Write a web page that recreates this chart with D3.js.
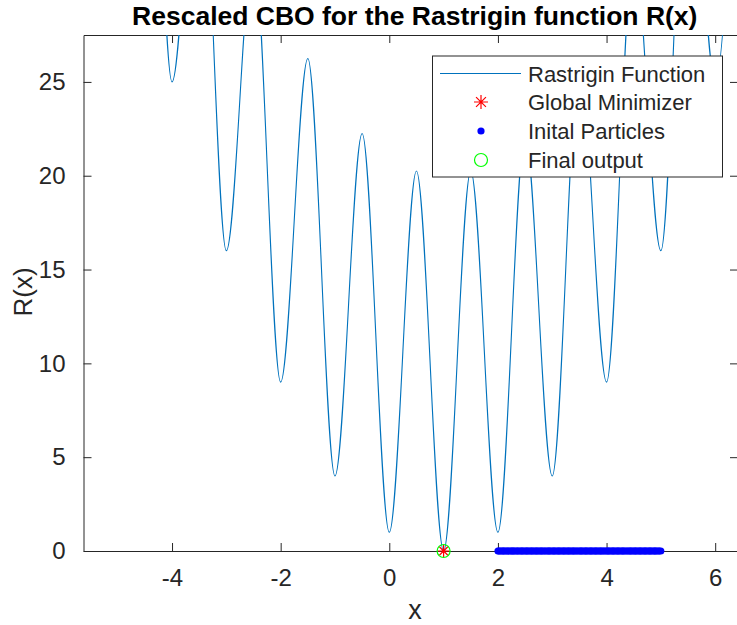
<!DOCTYPE html>
<html>
<head>
<meta charset="utf-8">
<script src="https://cdn.jsdelivr.net/npm/d3@7"></script>
<style>
    body { margin: 0; background: #fff; }
    text { font-family: "Liberation Sans", Arial, sans-serif; fill: #262626; }
</style>
</head>
<body>
<svg></svg>
<script>
const width = 737;
const height = 625;
const plotLeft = 83.5, plotRight = 738, plotTop = 35, plotBottom = 551;

// local extrema of the curve (values above 27.5 are estimated)
const curveX = [-6, -5.5, -5, -4.5, -4, -3.5, -3, -2.5, -2, -1.5, -1, -0.5, 0, 0.5, 1, 1.5, 2, 2.5, 3, 3.5, 4, 4.5, 5, 5.5, 6, 6.5];
const curveY = [59, 62.25, 36, 50.25, 25, 40.25, 16, 32.25, 9, 26.25, 4, 22.25, 1, 20.25, 0, 20.25, 1, 22.25, 4, 26.25, 9, 32.25, 16, 40.25, 25, 50.25];

const minimizer = [1, 0];
const finalOutput = [1, 0];
const particlesX = [2.00, 2.02, 2.04, 2.07, 2.09, 2.11, 2.13, 2.16, 2.18, 2.20, 2.23, 2.25, 2.27, 2.29,
    2.31, 2.34, 2.36, 2.38, 2.41, 2.43, 2.45, 2.47, 2.50, 2.52, 2.54, 2.56, 2.59, 2.61, 2.63, 2.65,
    2.68, 2.70, 2.72, 2.74, 2.77, 2.79, 2.81, 2.83, 2.86, 2.88, 2.91, 2.93, 2.95, 2.97, 3.00, 3.02,
    3.04, 3.06, 3.09, 3.11, 3.13, 3.15, 3.18, 3.20, 3.22, 3.24, 3.27, 3.29, 3.31, 3.33, 3.36, 3.38,
    3.40, 3.42, 3.45, 3.47, 3.50, 3.52, 3.54, 3.56, 3.59, 3.61, 3.63, 3.65, 3.68, 3.70, 3.72, 3.74,
    3.77, 3.79, 3.81, 3.83, 3.86, 3.88, 3.90, 3.92, 3.95, 3.97, 4.00, 4.02, 4.04, 4.06, 4.09, 4.11,
    4.13, 4.15, 4.18, 4.20, 4.22, 4.24, 4.27, 4.29, 4.31, 4.33, 4.36, 4.38, 4.41, 4.43, 4.45, 4.47,
    4.50, 4.52, 4.54, 4.56, 4.59, 4.61, 4.63, 4.65, 4.68, 4.70, 4.72, 4.74, 4.77, 4.79, 4.81, 4.83,
    4.86, 4.88, 4.90, 4.92, 4.95, 4.97, 5.00];

const xTicks = [-4, -2, 0, 2, 4, 6];
const yTicks = [0, 5, 10, 15, 20, 25];
const legendLabels = ["Rastrigin Function", "Global Minimizer", "Inital Particles", "Final output"];

const lineColor = "#0072BD";
const axisColor = "#262626";

let svg = d3.select("svg")
    .attr("width", width)
    .attr("height", height);

let scaleX = d3.scaleLinear().domain([-5.63, 6.42]).range([plotLeft, plotRight]);
let scaleY = d3.scaleLinear().domain([0, 27.5]).range([plotBottom, plotTop]);

svg.append("defs").append("clipPath").attr("id", "plotClip")
    .append("rect")
    .attr("x", plotLeft).attr("y", plotTop)
    .attr("width", plotRight - plotLeft).attr("height", plotBottom - plotTop);

// оси: снизу и слева с подписями, сверху и справа только риски
function styleAxis(g) {
    g.select(".domain").attr("stroke", axisColor);
    g.selectAll(".tick line").attr("stroke", axisColor);
    g.selectAll(".tick text").attr("fill", axisColor)
        .style("font-size", "24px")
        .style("font-family", "'Liberation Sans', Arial, sans-serif");
}

const plainFormat = d => String(d);

svg.append("g")
    .attr("transform", `translate(0, ${plotBottom})`)
    .call(d3.axisBottom(scaleX).tickValues(xTicks).tickFormat(plainFormat)
        .tickSizeInner(-8).tickSizeOuter(0).tickPadding(18))
    .call(styleAxis);

svg.append("g")
    .attr("transform", `translate(0, ${plotTop})`)
    .call(d3.axisTop(scaleX).tickValues(xTicks).tickSizeInner(-8).tickSizeOuter(0).tickFormat(""))
    .call(styleAxis);

svg.append("g")
    .attr("transform", `translate(${plotLeft}, 0)`)
    .call(d3.axisLeft(scaleY).tickValues(yTicks).tickFormat(plainFormat)
        .tickSizeInner(-8).tickSizeOuter(0).tickPadding(18))
    .call(styleAxis);

svg.append("g")
    .attr("transform", `translate(${plotRight}, 0)`)
    .call(d3.axisRight(scaleY).tickValues(yTicks).tickSizeInner(-8).tickSizeOuter(0).tickFormat(""))
    .call(styleAxis);

// кривая функции
let curveData = curveX.map((x, i) => ({ x: x, y: curveY[i] }));
let line = d3.line()
    .x(d => scaleX(d.x))
    .y(d => scaleY(d.y))
    .curve(d3.curveMonotoneX);

svg.append("path")
    .datum(curveData)
    .attr("clip-path", "url(#plotClip)")
    .attr("d", line)
    .attr("fill", "none")
    .attr("stroke", lineColor)
    .attr("stroke-width", 1.1);

// начальные частицы
svg.selectAll(".particle")
    .data(particlesX)
    .enter()
    .append("circle")
    .attr("class", "particle")
    .attr("cx", d => scaleX(d))
    .attr("cy", scaleY(0))
    .attr("r", 3.5)
    .style("fill", "#0000ff");

function asteriskPath(s) {
    const h = s / 2, d = h * 0.7071;
    return `M${-h},0L${h},0M0,${-h}L0,${h}M${-d},${-d}L${d},${d}M${-d},${d}L${d},${-d}`;
}

svg.append("path")
    .attr("transform", `translate(${scaleX(minimizer[0])}, ${scaleY(minimizer[1])})`)
    .attr("d", asteriskPath(12))
    .attr("stroke", "#ff0000")
    .attr("stroke-width", 1.2)
    .attr("fill", "none");

svg.append("circle")
    .attr("cx", scaleX(finalOutput[0]))
    .attr("cy", scaleY(finalOutput[1]))
    .attr("r", 6.5)
    .attr("fill", "none")
    .attr("stroke", "#00ff00")
    .attr("stroke-width", 1.2);

// заголовок и подписи осей
svg.append("text")
    .attr("x", (plotLeft + plotRight) / 2 + 4)
    .attr("y", 25)
    .attr("text-anchor", "middle")
    .style("font-size", "26.5px")
    .style("font-weight", "bold")
    .style("fill", "#000")
    .text("Rescaled CBO for the Rastrigin function R(x)");

svg.append("text")
    .attr("x", 415)
    .attr("y", 619)
    .attr("text-anchor", "middle")
    .style("font-size", "27px")
    .text("x");

svg.append("text")
    .attr("transform", "translate(32, 292) rotate(-90)")
    .attr("text-anchor", "middle")
    .style("font-size", "26px")
    .text("R(x)");

// легенда
let legend = svg.append("g");
legend.append("rect")
    .attr("x", 432.5).attr("y", 56)
    .attr("width", 290).attr("height", 121)
    .attr("fill", "#fff")
    .attr("stroke", axisColor)
    .attr("stroke-width", 1);

const rowY = [73.5, 102, 131, 160];
const markX = 481;

legend.append("line")
    .attr("x1", 440).attr("x2", 521)
    .attr("y1", rowY[0]).attr("y2", rowY[0])
    .attr("stroke", lineColor).attr("stroke-width", 1.1);

legend.append("path")
    .attr("transform", `translate(${markX}, ${rowY[1]})`)
    .attr("d", asteriskPath(14))
    .attr("stroke", "#ff0000").attr("stroke-width", 1.2).attr("fill", "none");

legend.append("circle")
    .attr("cx", markX).attr("cy", rowY[2]).attr("r", 3.6)
    .attr("fill", "#0000ff");

legend.append("circle")
    .attr("cx", markX).attr("cy", rowY[3]).attr("r", 6.5)
    .attr("fill", "none").attr("stroke", "#00ff00").attr("stroke-width", 1.2);

legend.selectAll(".lab")
    .data(legendLabels)
    .enter()
    .append("text")
    .attr("class", "lab")
    .attr("x", 528)
    .attr("y", (d, i) => rowY[i] + 8)
    .style("font-size", "22px")
    .text(d => d);
</script>
</body>
</html>
